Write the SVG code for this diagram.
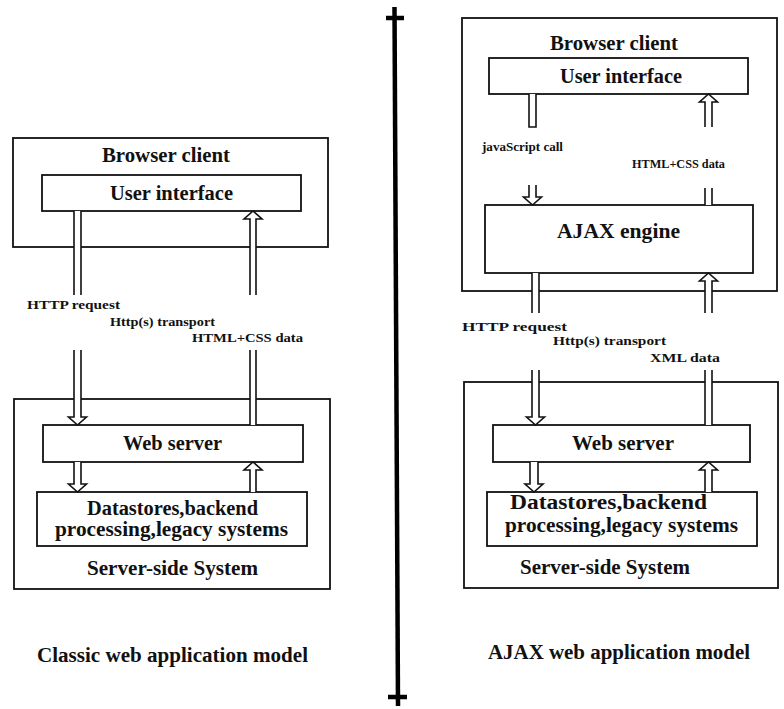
<svg xmlns="http://www.w3.org/2000/svg" width="784" height="709" viewBox="0 0 784 709">
<style>
.box{fill:none;stroke:#111;stroke-width:1.8}
.inner{fill:#fff;stroke:#111;stroke-width:1.8}
.t{font-family:"Liberation Serif","Times New Roman",serif;font-weight:bold;font-size:20.5px;fill:#111}
.s{font-family:"Liberation Serif","Times New Roman",serif;font-weight:bold;font-size:13px;fill:#111}
.arr{fill:#fff;stroke:#111;stroke-width:1.6;stroke-linejoin:miter}
.sh{fill:#fff;stroke:none}
.ln{fill:none;stroke:#111;stroke-width:1.6}
.div{fill:none;stroke:#000;stroke-width:4.5}
</style>
<rect width="784" height="709" fill="#fff"/>

<!-- Left: classic model -->
<g id="left-browser">
<rect class="box" x="13" y="138" width="315" height="109"/>
<text class="t" x="102" y="162" textLength="128" lengthAdjust="spacingAndGlyphs">Browser client</text>
</g>
<g id="left-ui">
<rect class="inner" x="42" y="175" width="259" height="36"/>
<text class="t" x="110" y="200" textLength="123" lengthAdjust="spacingAndGlyphs">User interface</text>
</g>
<g id="left-server">
<rect class="box" x="14" y="399" width="316" height="190"/>
<text class="t" x="87" y="575" textLength="171" lengthAdjust="spacingAndGlyphs">Server-side System</text>
</g>
<g id="left-web">
<rect class="inner" x="43" y="425" width="260" height="37"/>
<text class="t" x="123" y="450" textLength="99" lengthAdjust="spacingAndGlyphs">Web server</text>
</g>
<g id="left-data">
<rect class="inner" x="37" y="492" width="270" height="54"/>
<text class="t" x="87" y="515" textLength="171" lengthAdjust="spacingAndGlyphs">Datastores,backend</text>
<text class="t" x="55" y="536" textLength="233" lengthAdjust="spacingAndGlyphs">processing,legacy systems</text>
</g>
<g id="left-caption">
<text class="t" x="37" y="662" textLength="271" lengthAdjust="spacingAndGlyphs">Classic web application model</text>
</g>

<!-- Right: AJAX model -->
<g id="right-browser">
<rect class="box" x="462" y="18" width="315" height="273"/>
<text class="t" x="550" y="50" textLength="128" lengthAdjust="spacingAndGlyphs">Browser client</text>
</g>
<g id="right-ui">
<rect class="inner" x="489" y="58" width="259" height="36"/>
<text class="t" x="560" y="83" textLength="122" lengthAdjust="spacingAndGlyphs">User interface</text>
</g>
<g id="right-ajax">
<rect class="inner" x="485" y="205" width="268" height="68"/>
<text class="t" x="557" y="238" textLength="123" lengthAdjust="spacingAndGlyphs">AJAX engine</text>
</g>
<g id="right-server">
<rect class="box" x="464" y="382" width="314" height="206"/>
<text class="t" x="520" y="574" textLength="170" lengthAdjust="spacingAndGlyphs">Server-side System</text>
</g>
<g id="right-web">
<rect class="inner" x="493" y="425" width="257" height="37"/>
<text class="t" x="572" y="450" textLength="102" lengthAdjust="spacingAndGlyphs">Web server</text>
</g>
<g id="right-data">
<rect class="inner" x="487" y="492" width="270" height="54"/>
<text class="t" x="510" y="509" textLength="197" lengthAdjust="spacingAndGlyphs">Datastores,backend</text>
<text class="t" x="505" y="532" textLength="233" lengthAdjust="spacingAndGlyphs">processing,legacy systems</text>
</g>
<g id="right-caption">
<text class="t" x="488" y="659" textLength="262" lengthAdjust="spacingAndGlyphs">AJAX web application model</text>
</g>

<!-- Divider -->
<g id="divider">
<line class="div" x1="394.5" y1="7" x2="398" y2="706"/>
<line class="div" x1="386" y1="18" x2="404" y2="18"/>
<line class="div" x1="388" y1="697" x2="407" y2="697"/>
</g>

<!-- Connectors -->
<g id="connectors">
<!-- left: HTTP request down -->
<rect class="sh" x="74" y="211" width="7" height="84"/>
<path class="ln" d="M74,211 V295 M81,211 V295"/>
<path class="arr" d="M74,350 V417 H68.5 L77.5,425 L86.5,417 H81 V350"/>
<!-- left: HTML+CSS up -->
<path class="arr" d="M250,295 V219 H244 L253,211 L262,219 H256 V295"/>
<rect class="sh" x="250" y="350" width="6" height="75"/>
<path class="ln" d="M250,350 V425 M256,350 V425"/>
<!-- left: web -> data down -->
<path class="arr" d="M74,462 V484 H68.5 L77.5,492 L86.5,484 H81 V462"/>
<!-- left: data -> web up -->
<path class="arr" d="M250,492 V470 H244 L253,462 L262,470 H256 V492"/>

<!-- right: javaScript call down -->
<rect class="sh" x="529" y="94" width="7" height="33"/>
<path class="ln" d="M529,94 V127 H536 V94"/>
<path class="arr" d="M529,185 V197 H523.5 L532.5,205 L541.5,197 H536 V185"/>
<!-- right: HTML+CSS up -->
<path class="arr" d="M705,127 V102 H699.5 L708.5,94 L717.5,102 H712 V127"/>
<rect class="sh" x="705" y="188" width="7" height="17"/>
<path class="ln" d="M705,188 V205 M712,188 V205"/>
<!-- right: HTTP request down -->
<rect class="sh" x="532" y="273" width="7" height="40"/>
<path class="ln" d="M532,273 V313 M539,273 V313"/>
<path class="arr" d="M532,370 V417 H526.5 L535.5,425 L544.5,417 H539 V370"/>
<!-- right: XML data up -->
<path class="arr" d="M705,313 V281 H699.5 L708.5,273 L717.5,281 H712 V313"/>
<rect class="sh" x="705" y="370" width="7" height="55"/>
<path class="ln" d="M705,370 V425 M712,370 V425"/>
<!-- right: web -> data down -->
<path class="arr" d="M530,462 V484 H525 L534,492 L543,484 H538 V462"/>
<!-- right: data -> web up -->
<path class="arr" d="M705,492 V470 H699.5 L708.5,462 L717.5,470 H712 V492"/>

<!-- connector labels -->
<text class="s" x="27" y="309" textLength="93" lengthAdjust="spacingAndGlyphs">HTTP request</text>
<text class="s" x="110" y="326" textLength="105" lengthAdjust="spacingAndGlyphs">Http(s) transport</text>
<text class="s" x="192" y="342" textLength="111" lengthAdjust="spacingAndGlyphs">HTML+CSS data</text>
<text class="s" x="482" y="151" textLength="81" lengthAdjust="spacingAndGlyphs">javaScript call</text>
<text class="s" x="632" y="168" textLength="93" lengthAdjust="spacingAndGlyphs">HTML+CSS data</text>
<text class="s" x="462" y="331" textLength="105" lengthAdjust="spacingAndGlyphs">HTTP request</text>
<text class="s" x="553" y="345" textLength="113" lengthAdjust="spacingAndGlyphs">Http(s) transport</text>
<text class="s" x="650" y="362" textLength="70" lengthAdjust="spacingAndGlyphs">XML data</text>
</g>
</svg>
